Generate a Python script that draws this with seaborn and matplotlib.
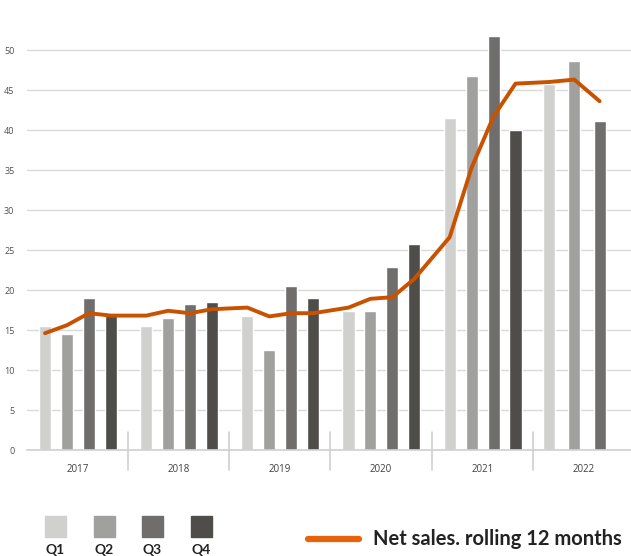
import pandas as pd
import matplotlib
matplotlib.use('Agg')
import matplotlib.pyplot as plt
import seaborn as sns
from matplotlib.patches import Rectangle

years = ['2017', '2018', '2019', '2020', '2021', '2022']
quarters = ['Q1', 'Q2', 'Q3', 'Q4']
q1 = [15.5, 15.5, 16.7, 17.4, 41.5, 45.8]
q2 = [14.5, 16.5, 12.5, 17.4, 46.7, 48.6]
q3 = [19.0, 18.2, 20.5, 22.9, 51.7, 41.1]
q4 = [17.0, 18.5, 19.0, 25.8, 40.0, None]
rolling = [14.6, 15.6, 17.1, 16.8,
           16.8, 17.4, 17.1, 17.6,
           17.8, 16.7, 17.1, 17.1,
           17.8, 18.9, 19.1, 21.4,
           26.6, 35.3, 41.7, 45.8,
           46.0, 46.3, 43.6]

quarter_colors = ['#d0d0ce', '#a0a09e', '#6f6e6c', '#4f4d49']
line_color = '#c85200'
legend_line_color = '#e8620a'

# long table, x = year index + offset of quarter inside the year group
rows = []
for i, y in enumerate(years):
    vals = [q1[i], q2[i], q3[i], q4[i]]
    n = sum(v is not None for v in vals)
    start, step = (0.178, 0.217) if n == 4 else (0.16, 0.25)
    for j, v in enumerate(vals):
        if v is None:
            continue
        rows.append({'x': i + start + j * step, 'quarter': quarters[j], 'value': v})
df = pd.DataFrame(rows)
df['rolling'] = rolling

sns.set_style('white')
plt.rcParams['font.family'] = ['Lato', 'DejaVu Sans']

fig = plt.figure(figsize=(6.31, 5.56), dpi=100)
ax = fig.add_axes([27 / 631, 106 / 556, 607 / 631, 416 / 556])

sns.barplot(data=df, x='x', y='value', hue='quarter', palette=quarter_colors,
            native_scale=True, dodge=False, width=0.55, legend=False, ax=ax,
            zorder=2)
sns.lineplot(data=df, x='x', y='rolling', color=line_color, lw=2.8, ax=ax,
             zorder=3)

ax.set_xlim(0, 6)
ax.set_ylim(0, 52)
ax.set_yticks(range(0, 51, 5))
ax.yaxis.grid(True, color='#d9d9d9', lw=1)
ax.set_axisbelow(True)
ax.set_xticks([i + 0.5 for i in range(len(years))])
ax.set_xticklabels(years)
ax.tick_params(axis='x', length=0, pad=10, labelsize=7, labelcolor='#404040')
ax.tick_params(axis='y', length=0, pad=9, labelsize=6.5, labelcolor='#505050')
for lab in ax.get_yticklabels() + ax.get_xticklabels():
    lab.set_fontfamily(['Open Sans', 'DejaVu Sans'])
ax.set_xlabel('')
ax.set_ylabel('')
for s in ['top', 'right', 'left']:
    ax.spines[s].set_visible(False)
ax.spines['bottom'].set_color('#d0d0d0')
ax.spines['bottom'].set_linewidth(1.2)

# year separators on the category axis
trans = ax.get_xaxis_transform()
for i in range(1, len(years)):
    ax.plot([i, i], [0.043, -0.048], transform=trans, color='#d0d0d0',
            lw=1.2, clip_on=False)

# legend
for j, q in enumerate(quarters):
    x0 = (45 + j * 48.5) / 631
    fig.add_artist(Rectangle((x0, 19 / 556), 21 / 631, 21 / 556,
                             transform=fig.transFigure, color=quarter_colors[j]))
    fig.text(x0 + 10.5 / 631, 0 / 556, q, ha='center', va='bottom',
             fontsize=10, fontweight='bold', color='#222222')
fig.add_artist(plt.Line2D([308 / 631, 359 / 631], [17 / 556, 17 / 556],
                          transform=fig.transFigure, color=legend_line_color, lw=4.5))
fig.text(373 / 631, 17 / 556, 'Net sales. rolling 12 months', ha='left',
         va='center', fontsize=14.5, fontweight='bold', color='#222222')

fig.savefig('out.png', dpi=100)
